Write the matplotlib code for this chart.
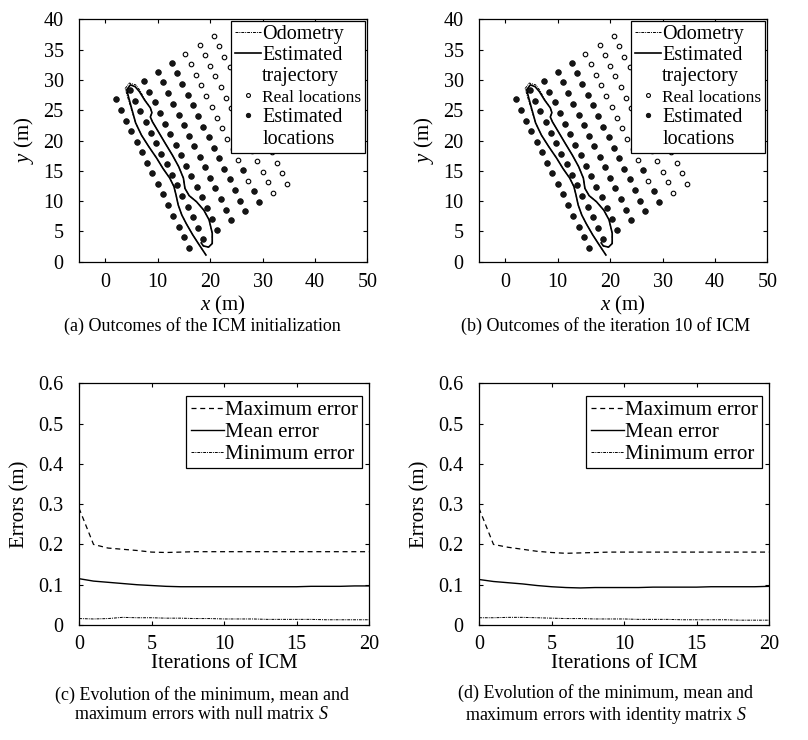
import matplotlib
matplotlib.use("Agg")
import matplotlib.pyplot as plt
from matplotlib.lines import Line2D

plt.rcParams["font.family"] = ["Liberation Serif", "DejaVu Serif"]
plt.rcParams["mathtext.fontset"] = "custom"
plt.rcParams["mathtext.rm"] = "Liberation Serif"
plt.rcParams["mathtext.it"] = "Liberation Serif:italic"

# landmark grid, column by column
real_x = [2.0, 3.0, 4.0, 5.0, 6.0, 7.0, 8.0, 9.0, 10.0, 11.0, 12.0, 13.0, 14.0, 15.0, 16.0,
          4.7, 5.7, 6.7, 7.7, 8.7, 9.7, 10.7, 11.7, 12.7, 13.7, 14.7, 15.7, 16.7, 17.7, 18.7,
          7.4, 8.4, 9.4, 10.4, 11.4, 12.4, 13.4, 14.4, 15.4, 16.4, 17.4, 18.4, 19.4, 20.4, 21.4,
          10.0, 11.0, 12.0, 13.0, 14.0, 15.0, 16.0, 17.0, 18.0, 19.0, 20.0, 21.0, 22.0, 23.0, 24.0,
          12.7, 13.7, 14.7, 15.7, 16.7, 17.7, 18.7, 19.7, 20.7, 21.7, 22.7, 23.7, 24.7, 25.7, 26.7,
          15.3, 16.3, 17.3, 18.3, 19.3, 20.3, 21.3, 22.3, 23.3, 24.3, 25.3, 26.3, 27.3, 28.3, 29.3,
          18.0, 19.0, 20.0, 21.0, 22.0, 23.0, 24.0, 25.0, 26.0, 27.0, 28.0, 29.0, 30.0, 31.0, 32.0,
          20.7, 21.7, 22.7, 23.7, 24.7, 25.7, 26.7, 27.7, 28.7, 29.7, 30.7, 31.7, 32.7, 33.7, 34.7]
real_y = [26.8, 25.1, 23.3, 21.6, 19.8, 18.1, 16.3, 14.6, 12.8, 11.1, 9.3, 7.6, 5.8, 4.1, 2.3,
          28.3, 26.6, 24.8, 23.1, 21.3, 19.6, 17.8, 16.1, 14.3, 12.6, 10.8, 9.1, 7.3, 5.6, 3.8,
          29.8, 28.1, 26.3, 24.6, 22.8, 21.1, 19.3, 17.6, 15.8, 14.1, 12.3, 10.6, 8.8, 7.1, 5.3,
          31.3, 29.6, 27.8, 26.1, 24.3, 22.6, 20.8, 19.1, 17.3, 15.6, 13.8, 12.1, 10.3, 8.6, 6.8,
          32.8, 31.1, 29.3, 27.6, 25.8, 24.1, 22.3, 20.6, 18.8, 17.1, 15.3, 13.6, 11.8, 10.1, 8.3,
          34.3, 32.6, 30.8, 29.1, 27.3, 25.6, 23.8, 22.1, 20.3, 18.6, 16.8, 15.1, 13.3, 11.6, 9.8,
          35.8, 34.1, 32.3, 30.6, 28.8, 27.1, 25.3, 23.6, 21.8, 20.1, 18.3, 16.6, 14.8, 13.1, 11.3,
          37.3, 35.6, 33.8, 32.1, 30.3, 28.6, 26.8, 25.1, 23.3, 21.6, 19.8, 18.1, 16.3, 14.6, 12.8]
# estimated landmarks: first five columns plus three of the sixth
est_x = real_x[:75] + [real_x[86], real_x[88], real_x[89]]
est_y = real_y[:75] + [real_y[86], real_y[88], real_y[89]]

traj_x = [19.2, 17.9, 16.7, 15.5, 14.6, 13.9, 13.5, 13.1, 12.3, 11.0, 9.8, 8.3, 6.9, 5.8,
          5.1, 4.5, 4.1, 4.8, 5.7, 6.5, 7.5, 8.6, 8.9, 8.6, 9.0, 10.1, 11.4, 12.8, 14.0,
          14.9, 15.2, 16.0, 17.4, 18.8, 19.8, 20.4, 20.4, 19.7, 18.7, 18.3]
traj_y = [1.1, 2.8, 4.4, 6.2, 7.7, 9.4, 11.0, 12.4, 13.8, 15.4, 17.1, 19.0, 20.9, 22.9,
          25.1, 27.0, 28.4, 29.2, 28.9, 28.1, 26.7, 25.4, 24.6, 23.9, 23.1, 21.5, 19.6, 17.6, 15.7,
          13.8, 12.1, 10.9, 9.9, 8.5, 6.9, 4.7, 3.0, 2.4, 2.6, 3.1]
odo_x = [19.2, 17.9, 16.7, 15.5, 14.6, 13.9, 13.5, 13.1, 12.3, 11.0, 9.8, 8.3, 6.9, 5.8,
         5.0, 4.3, 3.8, 4.6, 5.8, 6.6, 7.5, 8.6, 8.9, 8.6, 9.0, 10.1, 11.4, 12.8, 14.0,
         14.9, 15.2, 16.0, 17.4, 18.8, 19.8, 20.4, 20.4, 19.7, 18.7, 18.3]
odo_y = [1.1, 2.8, 4.4, 6.2, 7.7, 9.4, 11.0, 12.4, 13.8, 15.4, 17.1, 19.0, 20.9, 22.9,
         25.1, 27.1, 28.6, 29.5, 29.2, 28.3, 26.8, 25.4, 24.6, 23.9, 23.1, 21.5, 19.6, 17.6, 15.7,
         13.8, 12.1, 10.9, 9.9, 8.5, 6.9, 4.7, 3.0, 2.4, 2.6, 3.1]

iters = list(range(21))
max_null = [0.290, 0.200, 0.191, 0.188, 0.185, 0.181, 0.180, 0.181, 0.182, 0.182, 0.182,
            0.182, 0.182, 0.182, 0.182, 0.182, 0.182, 0.182, 0.182, 0.182, 0.182]
mean_null = [0.115, 0.109, 0.106, 0.103, 0.100, 0.098, 0.096, 0.095, 0.095, 0.095, 0.095,
             0.095, 0.095, 0.095, 0.095, 0.095, 0.096, 0.096, 0.096, 0.097, 0.097]
min_null = [0.016, 0.015, 0.016, 0.019, 0.018, 0.018, 0.017, 0.017, 0.016, 0.016, 0.015,
            0.015, 0.015, 0.014, 0.014, 0.014, 0.014, 0.013, 0.013, 0.013, 0.013]
max_id = [0.290, 0.200, 0.193, 0.188, 0.183, 0.180, 0.178, 0.179, 0.180, 0.181, 0.181,
          0.181, 0.181, 0.181, 0.181, 0.181, 0.181, 0.181, 0.181, 0.181, 0.181]
mean_id = [0.113, 0.108, 0.105, 0.102, 0.098, 0.095, 0.093, 0.092, 0.093, 0.093, 0.093,
           0.093, 0.094, 0.094, 0.094, 0.094, 0.095, 0.095, 0.095, 0.095, 0.096]
min_id = [0.018, 0.018, 0.019, 0.019, 0.018, 0.017, 0.016, 0.016, 0.015, 0.015, 0.015,
          0.014, 0.014, 0.014, 0.013, 0.013, 0.013, 0.013, 0.012, 0.012, 0.012]

ODO_DASH = [3, 1, 1, 1]


def box(ax, xpad, ypad):
    for s in ax.spines.values():
        s.set_linewidth(0.9)
    ax.tick_params(direction="in", top=True, right=True, length=3, width=0.8,
                   labelsize=14.5)
    ax.tick_params(axis="x", pad=xpad)
    ax.tick_params(axis="y", pad=ypad)


def map_panel(ax):
    box(ax, 8, 11)
    ax.plot(real_x, real_y, "o", ms=3.3, mfc="white", mec="k", mew=0.8, ls="none")
    ax.plot(est_x, est_y, "o", ms=3.6, color="#151515", ls="none")
    ax.plot(odo_x, odo_y, color="k", lw=0.7, dashes=ODO_DASH)
    ax.plot(traj_x, traj_y, color="k", lw=1.2)
    ax.set_xlim(-5, 50)
    ax.set_ylim(0, 40)
    ax.set_xticks([0, 10, 20, 30, 40, 50])
    ax.set_yticks(range(0, 41, 5))
    ax.set_xlabel(r"$x$ (m)", fontsize=15)
    ax.set_ylabel(r"$y$ (m)", fontsize=15)
    ax.xaxis.set_label_coords(0.5, -0.135)
    ax.yaxis.set_label_coords(-0.15, 0.5)

    # MATLAB-style legend: handle sits on the first line of a two-line label
    blank = Line2D([], [], ls="none")
    handles = [Line2D([], [], color="k", lw=0.7, dashes=ODO_DASH),
               Line2D([], [], color="k", lw=1.2), blank,
               Line2D([], [], marker="o", ms=2.8, mfc="white", mec="k", mew=0.8, ls="none"),
               Line2D([], [], marker="o", ms=2.8, color="#151515", ls="none"), blank]
    labels = ["Odometry", "Estimated", "trajectory", "Real locations", "Estimated",
              "locations"]
    leg = ax.legend(handles, labels, loc="upper right", bbox_to_anchor=(0.993, 0.994),
                    borderaxespad=0, fontsize=14.5, fancybox=False, edgecolor="k",
                    framealpha=1, handlelength=1.3, handletextpad=0.05,
                    labelspacing=0.1, borderpad=0.2, numpoints=1)
    leg.get_frame().set_linewidth(0.9)
    leg.get_texts()[3].set_fontsize(12.5)


def err_panel(ax, mx, mn, lo):
    box(ax, 7, 11)
    ax.plot(iters, mx, color="k", lw=0.9, dashes=[4, 3], label="Maximum error")
    ax.plot(iters, mn, color="k", lw=1.0, label="Mean error")
    ax.plot(iters, lo, color="k", lw=0.7, dashes=ODO_DASH, label="Minimum error")
    ax.set_xlim(0, 20)
    ax.set_ylim(0, 0.6)
    ax.set_xticks([0, 5, 10, 15, 20])
    ax.set_yticks([0, 0.1, 0.2, 0.3, 0.4, 0.5, 0.6])
    ax.set_yticklabels(["0", "0.1", "0.2", "0.3", "0.4", "0.5", "0.6"])
    ax.set_xlabel("Iterations of ICM", fontsize=15)
    ax.set_ylabel("Errors (m)", fontsize=15)
    ax.xaxis.set_label_coords(0.5, -0.118)
    ax.yaxis.set_label_coords(-0.17, 0.5)
    leg = ax.legend(loc="upper right", bbox_to_anchor=(0.976, 0.947), borderaxespad=0,
                    fontsize=15, fancybox=False, edgecolor="k", framealpha=1,
                    handlelength=1.6, handletextpad=0.05, labelspacing=0.12,
                    borderpad=0.2)
    leg.get_frame().set_linewidth(0.9)


fig = plt.figure(figsize=(8.08, 7.4), dpi=100)
ax_a = fig.add_axes([0.0978, 0.6464, 0.357, 0.3273])
ax_b = fig.add_axes([0.5928, 0.6464, 0.357, 0.3273])
ax_c = fig.add_axes([0.0978, 0.1554, 0.359, 0.3266])
ax_d = fig.add_axes([0.5928, 0.1554, 0.359, 0.3266])

map_panel(ax_a)
map_panel(ax_b)
err_panel(ax_c, max_null, mean_null, min_null)
err_panel(ax_d, max_id, mean_id, min_id)

fig.text(0.25, 1 - 326 / 740, "(a) Outcomes of the ICM initialization",
         ha="center", va="center", fontsize=13)
fig.text(0.75, 1 - 326 / 740, "(b) Outcomes of the iteration 10 of ICM",
         ha="center", va="center", fontsize=13)
fig.text(0.25, 1 - 705 / 740,
         "(c) Evolution of the minimum, mean and\nmaximum errors with null matrix $S$",
         ha="center", va="center", fontsize=13, linespacing=1.15)
fig.text(0.75, 1 - 705 / 740,
         "(d) Evolution of the minimum, mean and\nmaximum errors with identity matrix $S$",
         ha="center", va="center", fontsize=13, linespacing=1.15)

fig.savefig("out.png", dpi=100, facecolor="white")
